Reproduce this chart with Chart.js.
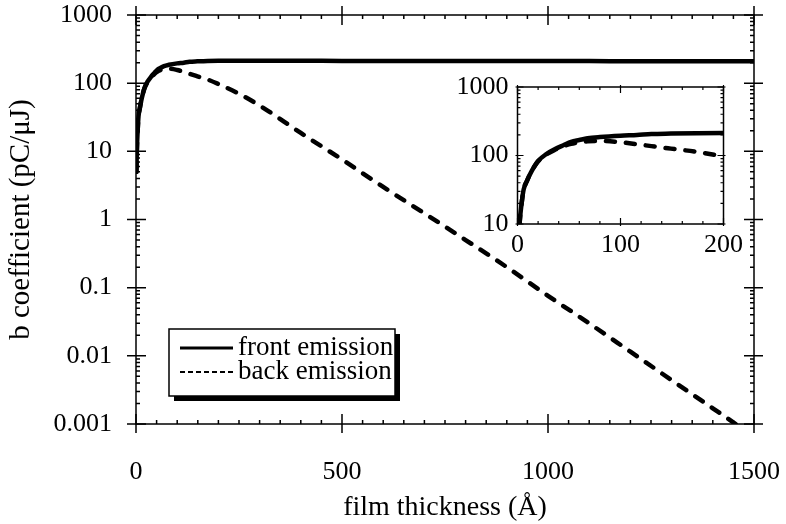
<!DOCTYPE html>
<html lang="en">
<head>
<meta charset="UTF-8">
<title>b coefficient vs film thickness</title>
<script src="https://cdn.jsdelivr.net/npm/chart.js"></script>
<style>
  html, body { margin: 0; padding: 0; background: #fff; }
  #wrap { position: relative; width: 786px; height: 524px; }
  #mainChart { position: absolute; left: 0; top: 0; }
  #insetChart { position: absolute; left: 430px; top: 70px; }
</style>
</head>
<body>
<div id="wrap">
  <canvas id="mainChart" width="786" height="524"></canvas>
  <canvas id="insetChart" width="356" height="200"></canvas>
</div>
<script>
// film thickness in Angstrom
const thickness = [1, 2, 4, 6, 9, 14, 20, 28, 36, 45, 52, 60, 68, 80, 100, 116, 130, 149, 174, 200,
                   250, 300, 400, 500, 600, 700, 800, 900, 1000, 1100, 1200, 1300, 1400, 1460, 1500];
// b coefficient, pC/uJ
const frontEmission = [5, 10, 20, 32, 42, 60, 83, 105, 123, 142, 158, 168, 178, 186, 195, 200, 206, 209, 212, 213,
                       213, 213, 213, 212, 212, 212, 211, 211, 211, 211, 210, 210, 210, 210, 210];
const backEmission = [5, 10, 20, 32, 42, 60, 82, 103, 120, 137, 148, 156, 161, 163, 156, 146, 137, 126, 113, 97,
                      70, 47, 18.6, 7.6, 3.0, 1.23, 0.50, 0.20, 0.076, 0.030, 0.0115, 0.0044, 0.0017, 0.00095, 0.0006];

const yTicks = [0.001, 0.01, 0.1, 1, 10, 100, 1000];
const yTickLabels = ['0.001', '0.01', '0.1', '1', '10', '100', '1000'];
const xTicks = [0, 500, 1000, 1500];
const xTickLabels = ['0', '500', '1000', '1500'];

const insetYTicks = [10, 100, 1000];
const insetYTickLabels = ['10', '100', '1000'];
const insetXTicks = [0, 100, 200];
const insetXTickLabels = ['0', '100', '200'];

const FONT = "'Liberation Serif', 'Times New Roman', serif";

function points(ys) {
  return thickness.map((x, i) => ({ x, y: ys[i] }));
}

function logMinors(min, max) {
  const out = [];
  for (let d = min; d < max; d *= 10) {
    for (let k = 2; k <= 9; k++) out.push(d * k);
  }
  return out;
}

function linMinors(min, max, step, major) {
  const out = [];
  for (let v = min; v <= max; v += step) {
    if (v % major !== 0) out.push(v);
  }
  return out;
}

// draws the frame box with ticks on all four sides
const frameTicks = {
  id: 'frameTicks',
  afterDatasetsDraw(chart, args, opts) {
    const { ctx, chartArea: a } = chart;
    const xs = chart.scales.x, ys = chart.scales.y;
    ctx.save();
    ctx.strokeStyle = '#000';
    ctx.lineWidth = opts.frameWidth;
    ctx.strokeRect(a.left, a.top, a.right - a.left, a.bottom - a.top);
    ctx.lineWidth = opts.tickWidth;
    ctx.beginPath();
    opts.xMajor.forEach(v => {
      const p = xs.getPixelForValue(v);
      ctx.moveTo(p, a.bottom + opts.majorOut); ctx.lineTo(p, a.bottom - opts.majorIn);
      ctx.moveTo(p, a.top - opts.majorOut); ctx.lineTo(p, a.top + opts.majorIn);
    });
    opts.xMinor.forEach(v => {
      const p = xs.getPixelForValue(v);
      ctx.moveTo(p, a.bottom); ctx.lineTo(p, a.bottom - opts.minorIn);
      ctx.moveTo(p, a.top); ctx.lineTo(p, a.top + opts.minorIn);
    });
    opts.yMajor.forEach(v => {
      const p = ys.getPixelForValue(v);
      ctx.moveTo(a.left - opts.majorOut, p); ctx.lineTo(a.left + opts.majorIn, p);
      ctx.moveTo(a.right + opts.majorOut, p); ctx.lineTo(a.right - opts.majorIn, p);
    });
    opts.yMinor.forEach(v => {
      const p = ys.getPixelForValue(v);
      ctx.moveTo(a.left, p); ctx.lineTo(a.left + opts.minorIn, p);
      ctx.moveTo(a.right, p); ctx.lineTo(a.right - opts.minorIn, p);
    });
    ctx.stroke();
    ctx.restore();
  }
};

// legend box with a drop shadow, drawn inside the plot
const boxLegend = {
  id: 'boxLegend',
  afterDraw(chart, args, opts) {
    if (!opts.display) return;
    const ctx = chart.ctx;
    const { left, top, width, height } = opts;
    ctx.save();
    ctx.fillStyle = '#000';
    ctx.fillRect(left + 5, top + 5, width, height);
    ctx.fillStyle = '#fff';
    ctx.fillRect(left, top, width, height);
    ctx.strokeStyle = '#000';
    ctx.lineWidth = 1.5;
    ctx.strokeRect(left, top, width, height);
    ctx.font = opts.font;
    ctx.textBaseline = 'middle';
    ctx.fillStyle = '#000';
    chart.data.datasets.forEach((ds, i) => {
      const y = top + 19 + i * 24;
      ctx.beginPath();
      ctx.lineWidth = i === 0 ? 3 : 2;
      ctx.setLineDash(i === 0 ? [] : [5, 3]);
      ctx.moveTo(left + 11, y);
      ctx.lineTo(left + 64, y);
      ctx.stroke();
      ctx.setLineDash([]);
      ctx.fillText(ds.label, left + 69, y);
    });
    ctx.restore();
  }
};

function datasets(lineW) {
  return [
    {
      label: 'front emission',
      data: points(frontEmission),
      borderColor: '#000',
      borderWidth: lineW,
      pointRadius: 0,
      cubicInterpolationMode: 'monotone',
      borderCapStyle: 'round',
      borderJoinStyle: 'round'
    },
    {
      label: 'back emission',
      data: points(backEmission),
      borderColor: '#000',
      borderWidth: lineW,
      borderDash: [9, 11],
      borderCapStyle: 'round',
      pointRadius: 0,
      cubicInterpolationMode: 'monotone'
    }
  ];
}

// pin the axis sizes so the plot box lands where it should
function fixY(width) {
  return s => { s.width = width; s.paddingTop = 0; s.paddingBottom = 0; };
}
function fixX(height) {
  return s => { s.height = height; s.paddingLeft = 0; s.paddingRight = 0; };
}

new Chart(document.getElementById('mainChart'), {
  type: 'line',
  data: { datasets: datasets(4.5) },
  plugins: [frameTicks, boxLegend],
  options: {
    responsive: false,
    animation: false,
    devicePixelRatio: 1,
    layout: { padding: { top: 15, right: 32, left: 0, bottom: 0 } },
    plugins: {
      legend: { display: false },
      tooltip: { enabled: false },
      frameTicks: {
        frameWidth: 1.5, tickWidth: 1.5, majorOut: 9, majorIn: 10, minorIn: 4,
        xMajor: xTicks, xMinor: linMinors(0, 1500, 50, 500),
        yMajor: yTicks, yMinor: logMinors(0.001, 1000)
      },
      boxLegend: { display: true, left: 169, top: 329, width: 226, height: 67, font: '27px ' + FONT }
    },
    scales: {
      x: {
        type: 'linear', min: 0, max: 1500,
        afterBuildTicks: s => { s.ticks = xTicks.map(v => ({ value: v })); },
        afterFit: fixX(100),
        grid: { display: false, drawTicks: false },
        border: { display: false },
        ticks: {
          padding: 33, color: '#000', maxRotation: 0,
          font: { family: FONT, size: 26 },
          callback: (v, i) => xTickLabels[i]
        },
        title: {
          display: true, text: 'film thickness (Å)', color: '#000',
          font: { family: FONT, size: 28 }, padding: { top: 6, bottom: 0 }
        }
      },
      y: {
        type: 'logarithmic', min: 0.001, max: 1000,
        afterBuildTicks: s => { s.ticks = yTicks.map(v => ({ value: v })); },
        afterFit: fixY(136),
        grid: { display: false, drawTicks: false },
        border: { display: false },
        ticks: {
          padding: 24, color: '#000',
          font: { family: FONT, size: 26 },
          callback: (v, i) => yTickLabels[i]
        },
        title: {
          display: true, text: 'b coefficient (pC/μJ)', color: '#000',
          font: { family: FONT, size: 29 }, padding: { top: 4, bottom: 0 }
        }
      }
    }
  }
});

new Chart(document.getElementById('insetChart'), {
  type: 'line',
  data: { datasets: datasets(4.5) },
  plugins: [frameTicks],
  options: {
    responsive: false,
    animation: false,
    devicePixelRatio: 1,
    layout: { padding: { top: 17, right: 62.5, left: 0, bottom: 0 } },
    plugins: {
      legend: { display: false },
      tooltip: { enabled: false },
      frameTicks: {
        frameWidth: 1.5, tickWidth: 1.2, majorOut: 2, majorIn: 6, minorIn: 3,
        xMajor: insetXTicks, xMinor: linMinors(0, 200, 20, 100),
        yMajor: insetYTicks, yMinor: logMinors(10, 1000)
      }
    },
    scales: {
      x: {
        type: 'linear', min: 0, max: 200,
        afterBuildTicks: s => { s.ticks = insetXTicks.map(v => ({ value: v })); },
        afterFit: fixX(46),
        grid: { display: false, drawTicks: false },
        border: { display: false },
        ticks: {
          padding: 6, color: '#000', maxRotation: 0,
          font: { family: FONT, size: 26 },
          callback: (v, i) => insetXTickLabels[i]
        }
      },
      y: {
        type: 'logarithmic', min: 10, max: 1000,
        afterBuildTicks: s => { s.ticks = insetYTicks.map(v => ({ value: v })); },
        afterFit: fixY(87.5),
        grid: { display: false, drawTicks: false },
        border: { display: false },
        ticks: {
          padding: 9, color: '#000',
          font: { family: FONT, size: 26 },
          callback: (v, i) => insetYTickLabels[i]
        }
      }
    }
  }
});
</script>
</body>
</html>
